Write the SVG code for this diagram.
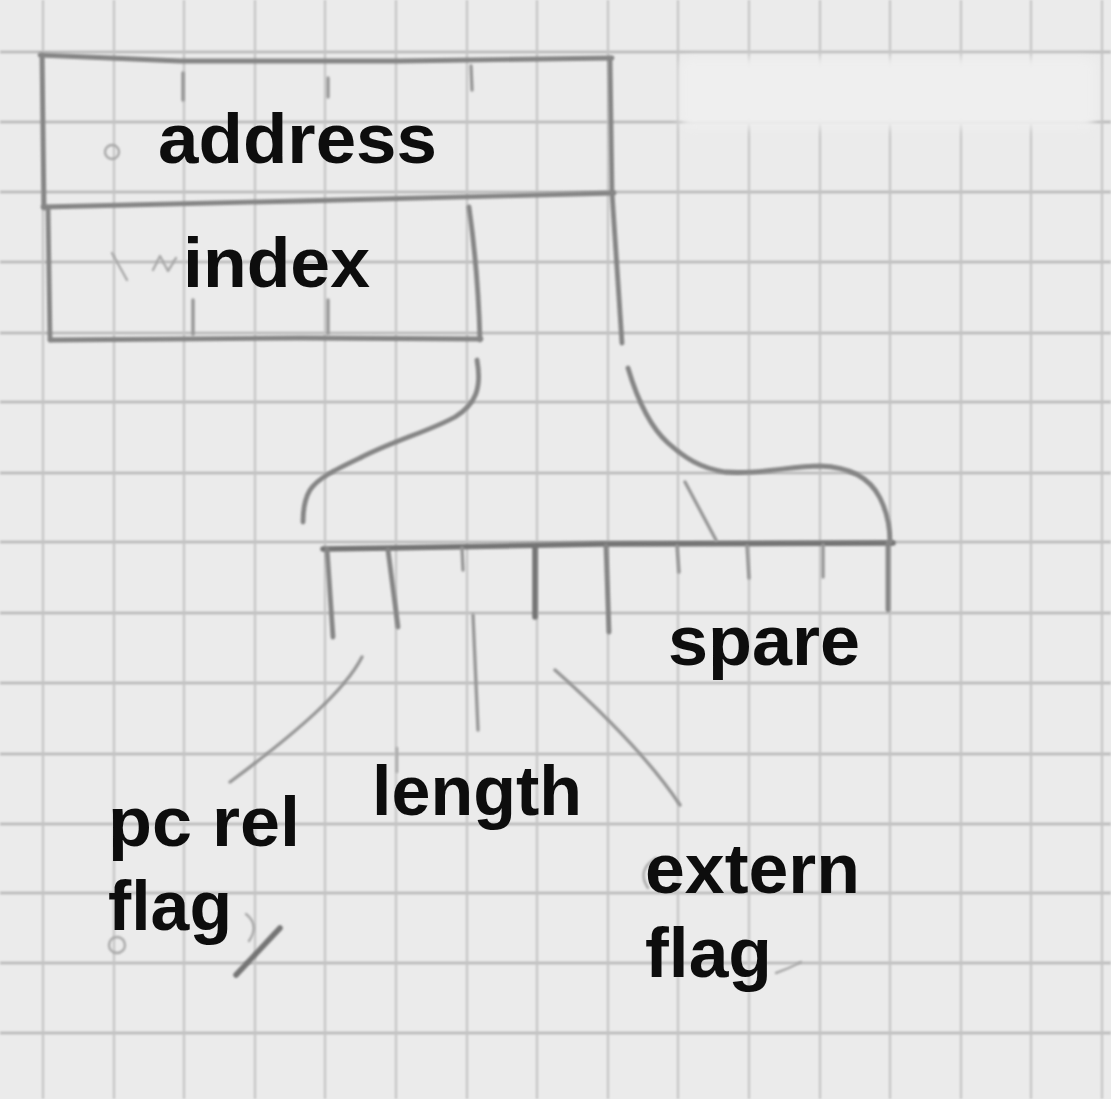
<svg xmlns="http://www.w3.org/2000/svg" width="1111" height="1099" viewBox="0 0 1111 1099">
  <defs>
    <filter id="soft" x="-5%" y="-5%" width="110%" height="110%">
      <feGaussianBlur stdDeviation="0.9"/>
    </filter>
    <filter id="erase" x="-20%" y="-50%" width="140%" height="200%">
      <feGaussianBlur stdDeviation="5"/>
    </filter>
    <filter id="txt" x="-5%" y="-10%" width="110%" height="120%">
      <feGaussianBlur stdDeviation="0.6"/>
    </filter>
  </defs>
  <style>
    .gridh { stroke: #b6b6b6; stroke-width: 2.4; fill: none; }
    .gridv { stroke: #c2c2c2; stroke-width: 2; fill: none; }
    .pen { stroke: #858585; stroke-width: 4.8; fill: none; stroke-linecap: round; stroke-linejoin: round; }
    .dark { stroke: #747474; stroke-width: 5.5; }
    .thin { stroke: #979797; stroke-width: 3.4; }
    .faint { stroke: #a8a8a8; stroke-width: 2.4; }
    .lbl { font-family: "Liberation Sans", Arial, sans-serif; font-weight: bold; font-size: 70px; fill: #111111; }
  </style>

  <!-- paper -->
  <rect x="0" y="0" width="1111" height="1099" fill="#ebebeb"/>

  <!-- grid -->
  <g id="grid" filter="url(#soft)">
    <path class="gridh" d="M0,52H1111 M0,122H1111 M0,192H1111 M0,262H1111 M0,333H1111 M0,402H1111 M0,473H1111 M0,542H1111 M0,613H1111 M0,683H1111 M0,754H1111 M0,824H1111 M0,893H1111 M0,963H1111 M0,1033H1111"/>
    <path class="gridv" d="M43,0V1099 M114,0V1099 M184,0V1099 M255,0V1099 M325,0V1099 M396,0V1099 M467,0V1099 M537,0V1099 M608,0V1099 M678,0V1099 M749,0V1099 M820,0V1099 M890,0V1099 M961,0V1099 M1031,0V1099 M1102,0V1099"/>
  </g>
  <!-- erased patch at top right -->
  <rect x="680" y="58" width="415" height="70" rx="10" fill="#efefef" filter="url(#erase)"/>

  <!-- node: address / index record -->
  <g id="record" filter="url(#soft)">
    <path class="pen" d="M40,55 L180,61 L400,61 L612,58"/>
    <path class="pen" d="M610,58 L612,193"/>
    <path class="pen" d="M43,207 L300,201 L614,193"/>
    <path class="pen" d="M42,55 L44,208"/>
    <path class="pen" d="M48,208 L50,340"/>
    <path class="pen" d="M50,340 L300,338 L481,339"/>
    <path class="pen" d="M469,207 Q478,270 480,340"/>
    <path class="pen" d="M612,193 L622,343"/>
    <path class="pen thin" d="M183,73 L183,100 M328,78 L328,97 M471,66 L472,90"/>
    <path class="pen thin" d="M193,300 L193,334 M328,300 L328,333"/>
    <circle class="pen faint" cx="112" cy="152" r="7"/>
    <path class="pen faint" d="M112,253 L127,280 M153,270 L160,256 L168,271 L176,258"/>
  </g>

  <!-- node: bit field -->
  <g id="bitfield" filter="url(#soft)">
    <path class="pen dark" d="M323,549 L390,548 L600,544 L893,543"/>
    <path class="pen" d="M327,549 L333,637"/>
    <path class="pen" d="M888,543 L888,610"/>
    <path class="pen" d="M388,550 L398,627"/>
    <path class="pen thin" d="M462,548 L463,570"/>
    <path class="pen dark" d="M535,547 L535,617"/>
    <path class="pen" d="M606,546 L609,632"/>
    <path class="pen thin" d="M677,546 L679,572 M747,546 L749,578 M823,545 L823,577"/>
  </g>

  <!-- connectors -->
  <g id="connectors" filter="url(#soft)">
    <path class="pen" d="M477,360 C482,388 476,404 455,417 C430,431 395,440 360,458 C335,470 318,478 310,490 C304,500 303,512 303,522"/>
    <path class="pen" d="M628,368 C636,395 648,425 668,443 C685,458 700,468 725,472 C760,475 790,466 820,466 C850,467 870,478 880,498 C887,512 890,528 890,542"/>
    <path class="pen thin" d="M685,482 L716,540"/>
    <path class="pen thin" d="M473,615 L478,730"/>
    <path class="pen thin" d="M362,657 C345,690 300,730 230,782"/>
    <path class="pen thin" d="M555,670 C600,710 650,760 680,805"/>
  </g>

  <!-- stray pencil marks -->
  <g id="marks" filter="url(#soft)">
    <path class="pen dark" d="M236,975 L280,928"/>
    <path class="pen faint" d="M246,914 Q260,925 249,941"/>
    <circle class="pen faint" cx="117" cy="945" r="8"/>
    <path class="pen faint" d="M656,858 Q636,870 648,888"/>
    <path class="pen faint" d="M776,973 Q790,968 801,962"/>
    <path class="pen faint" d="M397,748 L397,772"/>
  </g>

  <!-- labels -->
  <g id="labels" filter="url(#txt)">
    <g id="label-address"><text class="lbl" x="158" y="163" textLength="279" lengthAdjust="spacingAndGlyphs">address</text></g>
    <g id="label-index"><text class="lbl" x="183" y="287" textLength="187" lengthAdjust="spacingAndGlyphs">index</text></g>
    <g id="label-spare"><text class="lbl" x="668" y="665" textLength="192" lengthAdjust="spacingAndGlyphs">spare</text></g>
    <g id="label-length"><text class="lbl" x="372" y="815" textLength="210" lengthAdjust="spacingAndGlyphs">length</text></g>
    <g id="label-pcrel">
      <text class="lbl" x="108" y="846" textLength="192" lengthAdjust="spacingAndGlyphs">pc rel</text>
      <text class="lbl" x="108" y="930" textLength="124" lengthAdjust="spacingAndGlyphs">flag</text>
    </g>
    <g id="label-extern">
      <text class="lbl" x="645" y="893" textLength="215" lengthAdjust="spacingAndGlyphs">extern</text>
      <text class="lbl" x="645" y="977" textLength="127" lengthAdjust="spacingAndGlyphs">flag</text>
    </g>
  </g>
</svg>
